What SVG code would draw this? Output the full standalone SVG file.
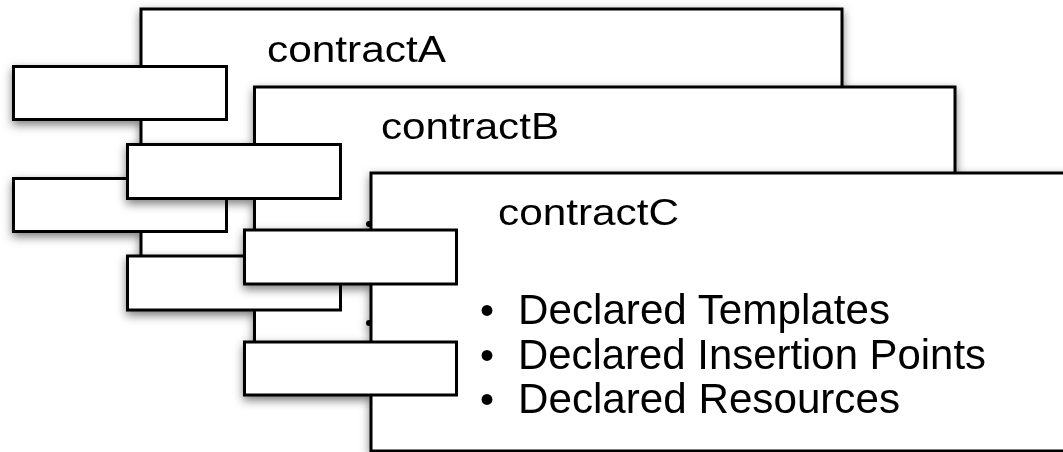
<svg xmlns="http://www.w3.org/2000/svg" width="1063" height="452" viewBox="0 0 1063 452">
  <style>
    .box { fill: #ffffff; stroke: #000000; stroke-width: 3; }
    .title { font-family: "Liberation Sans", Arial, Helvetica, sans-serif; font-size: 37px; fill: #000000; }
    .item { font-family: "Liberation Sans", Arial, Helvetica, sans-serif; font-size: 42px; fill: #000000; }
    .bullet { font-family: "Liberation Sans", Arial, Helvetica, sans-serif; font-size: 40px; fill: #000000; }
    .dot { fill: #000000; }
  </style>
  <defs>
    <filter id="shadow" x="-10%" y="-10%" width="130%" height="130%">
      <feDropShadow dx="0" dy="4" stdDeviation="5" flood-color="#000000" flood-opacity="0.5"/>
    </filter>
  </defs>
  <rect x="0" y="0" width="1063" height="452" fill="#ffffff"/>

  <g id="contractA" filter="url(#shadow)">
    <rect class="box" x="141" y="9" width="701" height="291"/>
    <rect class="box" x="13.5" y="66.5" width="213" height="53"/>
    <rect class="box" x="13.5" y="178.5" width="213" height="53"/>
    <text class="title" x="267" y="62" textLength="179" lengthAdjust="spacingAndGlyphs">contractA</text>
  </g>

  <g id="contractB" filter="url(#shadow)">
    <rect class="box" x="254.5" y="87" width="700.5" height="298"/>
    <rect class="box" x="127.5" y="144.5" width="213" height="54"/>
    <rect class="box" x="127.5" y="256" width="213" height="54"/>
    <text class="title" x="381" y="139" textLength="178" lengthAdjust="spacingAndGlyphs">contractB</text>
  </g>

  <g id="contractC" filter="url(#shadow)">
    <rect class="box" x="371" y="173" width="720" height="278"/>
    <circle class="dot" cx="369" cy="224" r="3"/>
    <circle class="dot" cx="369" cy="323" r="3"/>
    <rect class="box" x="244.5" y="230" width="212" height="54"/>
    <rect class="box" x="244.5" y="342" width="212" height="53"/>
    <text class="title" x="498" y="225" textLength="181" lengthAdjust="spacingAndGlyphs">contractC</text>
    <text class="bullet" x="480" y="324">•</text>
    <text class="item" x="518" y="324" textLength="372" lengthAdjust="spacingAndGlyphs">Declared Templates</text>
    <text class="bullet" x="480" y="369">•</text>
    <text class="item" x="518" y="369" textLength="468" lengthAdjust="spacingAndGlyphs">Declared Insertion Points</text>
    <text class="bullet" x="480" y="413">•</text>
    <text class="item" x="518" y="413" textLength="382" lengthAdjust="spacingAndGlyphs">Declared Resources</text>
  </g>

  <g id="connectors"/>
</svg>
